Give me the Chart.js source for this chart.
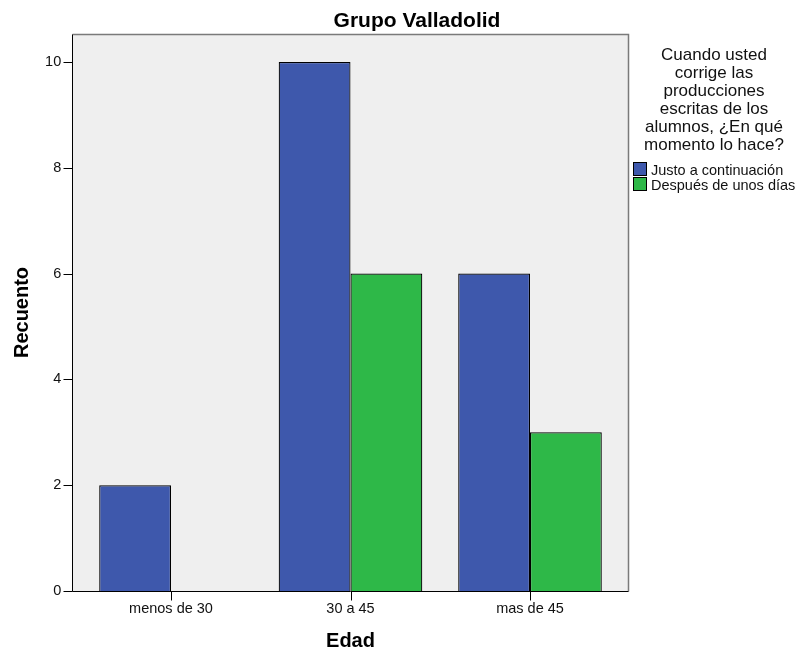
<!DOCTYPE html>
<html>
<head>
<meta charset="utf-8">
<script src="https://cdn.jsdelivr.net/npm/chart.js@4.4.1/dist/chart.umd.min.js"></script>
<style>
  html, body { margin: 0; padding: 0; background: #ffffff; }
  #wrap { width: 798px; height: 653px; }
</style>
</head>
<body>
<div id="wrap"><canvas id="c" width="798" height="653"></canvas></div>
<script>
// Chart content
const chartTitle = 'Grupo Valladolid';
const categories = ['menos de 30', '30 a 45', 'mas de 45'];
const seriesNames = ['Justo a continuación', 'Después de unos días'];
const justoValues = [2, 10, 6];
const despuesValues = [0, 6, 3];
const yTickValues = [0, 2, 4, 6, 8, 10];
const xAxisTitle = 'Edad';
const yAxisTitle = 'Recuento';
const legendTitleLines = ['Cuando usted', 'corrige las', 'producciones', 'escritas de los', 'alumnos, ¿En qué', 'momento lo hace?'];

const seriesColors = ['#3e58ac', '#2eb848'];
const FONT = '"Liberation Sans", Arial, sans-serif';
const PLOT_BG = '#efefef';
const PLOT_EXTRA = 9.25;   // plot frame extends past the outer category slots

// Frame, ticks, title and legend drawn around the chart area
const framePlugin = {
  id: 'frame',
  beforeDraw(chart) {
    const { ctx, chartArea: a } = chart;
    ctx.save();
    ctx.fillStyle = PLOT_BG;
    ctx.fillRect(a.left - PLOT_EXTRA, a.top, a.right - a.left + 2 * PLOT_EXTRA, a.bottom - a.top);
    ctx.restore();
  },
  afterDraw(chart) {
    const { ctx, chartArea: a, scales } = chart;
    const L = Math.round(a.left - PLOT_EXTRA) + 0.5;
    const R = Math.round(a.right + PLOT_EXTRA) - 0.5;
    const T = Math.round(a.top) + 0.5;
    const B = Math.round(a.bottom) + 0.5;
    ctx.save();
    // top and right edges
    ctx.strokeStyle = '#7a7a7a';
    ctx.lineWidth = 1.5;
    ctx.beginPath();
    ctx.moveTo(L, T); ctx.lineTo(R, T); ctx.lineTo(R, B);
    ctx.stroke();
    // axis lines
    ctx.strokeStyle = '#000000';
    ctx.lineWidth = 1;
    ctx.beginPath();
    ctx.moveTo(L, T); ctx.lineTo(L, B); ctx.lineTo(R, B);
    ctx.stroke();
    // y tick marks
    ctx.beginPath();
    scales.y.ticks.forEach(t => {
      const y = Math.round(scales.y.getPixelForValue(t.value)) + 0.5;
      ctx.moveTo(L - 9, y); ctx.lineTo(L, y);
    });
    // x tick marks
    categories.forEach((c, i) => {
      const x = Math.round(scales.x.getPixelForValue(i)) + 0.5;
      ctx.moveTo(x, B); ctx.lineTo(x, B + 9);
    });
    ctx.stroke();

    // chart title
    ctx.fillStyle = '#000000';
    ctx.font = 'bold 21px ' + FONT;
    ctx.textAlign = 'center';
    ctx.textBaseline = 'alphabetic';
    ctx.fillText(chartTitle, 417, 27);

    // legend title
    ctx.font = '17px ' + FONT;
    ctx.fillStyle = '#111111';
    legendTitleLines.forEach((line, i) => {
      ctx.fillText(line, 714, 60 + i * 18);
    });

    // legend items
    ctx.textAlign = 'left';
    ctx.font = '14.5px ' + FONT;
    chart.data.datasets.forEach((ds, i) => {
      const y = 162 + i * 15;
      ctx.fillStyle = ds.backgroundColor;
      ctx.fillRect(633, y, 14, 14);
      ctx.strokeStyle = '#000000';
      ctx.lineWidth = 1;
      ctx.strokeRect(633.5, y + 0.5, 13, 13);
      ctx.fillStyle = '#111111';
      ctx.fillText(ds.label, 651, y + 13);
    });
    ctx.restore();
  }
};

new Chart(document.getElementById('c'), {
  type: 'bar',
  data: {
    labels: categories,
    datasets: [
      { label: seriesNames[0], data: justoValues, backgroundColor: seriesColors[0] },
      { label: seriesNames[1], data: despuesValues, backgroundColor: seriesColors[1] }
    ]
  },
  options: {
    responsive: false,
    animation: false,
    devicePixelRatio: 1,
    layout: { padding: { top: 34, right: 178.25, bottom: 0, left: 0 } },
    datasets: {
      bar: {
        categoryPercentage: 0.8,
        barPercentage: 1.0,
        borderColor: '#000000',
        borderWidth: 1.2,
        borderSkipped: 'bottom'
      }
    },
    plugins: {
      legend: { display: false },
      title: { display: false },
      tooltip: { enabled: false }
    },
    scales: {
      x: {
        type: 'category',
        offset: true,
        grid: { display: false, drawTicks: false },
        border: { display: false },
        ticks: { color: '#111111', font: { family: FONT, size: 14.5 }, padding: 9, maxRotation: 0 },
        title: {
          display: true, text: xAxisTitle, color: '#000000',
          font: { family: FONT, size: 20, weight: 'bold' },
          padding: { top: 0, bottom: 0 }
        },
        afterFit(scale) { scale.height = 62; }
      },
      y: {
        min: 0,
        max: 10.53,
        grid: { display: false, drawTicks: false },
        border: { display: false },
        afterBuildTicks(scale) { scale.ticks = yTickValues.map(v => ({ value: v })); },
        ticks: { color: '#111111', font: { family: FONT, size: 14.5 }, padding: 20 },
        title: {
          display: true, text: yAxisTitle, color: '#000000',
          font: { family: FONT, size: 20, weight: 'bold' },
          padding: { top: 10, bottom: 0 }
        },
        afterFit(scale) { scale.width = 81.25; }
      }
    }
  },
  plugins: [framePlugin]
});
</script>
</body>
</html>
